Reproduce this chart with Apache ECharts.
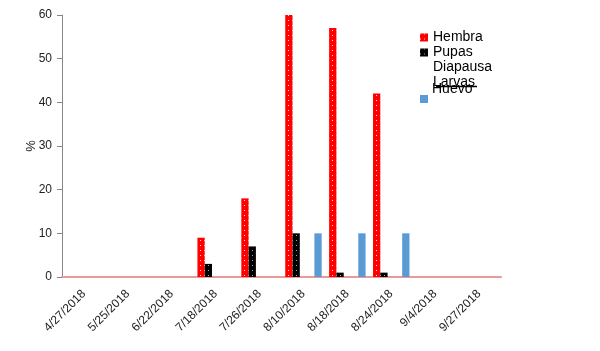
<!DOCTYPE html>
<html>
<head>
<meta charset="utf-8">
<title>Estados</title>
<script src="https://cdn.jsdelivr.net/npm/echarts@6/dist/echarts.min.js"></script>
</head>
<body style="margin:0">
<div id="container" style="width:600px;height:351px"></div>
<script>
var fechas = ['4/27/2018', '5/25/2018', '6/22/2018', '7/18/2018', '7/26/2018',
              '8/10/2018', '8/18/2018', '8/24/2018', '9/4/2018', '9/27/2018'];
var hembra   = [0, 0, 0, 9, 18, 60, 57, 42, 0, 0];
var pupas    = [0, 0, 0, 3, 7, 10, 1, 1, 0, 0];
var diapausa = [0, 0, 0, 0, 0, 0, 0, 0, 0, 0];
var larvas   = [0, 0, 0, 0, 0, 0, 0, 0, 0, 0];
var huevo    = [0, 0, 0, 0, 0, 10, 10, 10, 0, 0];

var myChart = echarts.init(document.getElementById('container'));
var fuente = 'Liberation Sans, Arial, sans-serif';

// white / pale dots over the fill, like the original pattern fill
var puntos = function (c) {
  return { symbol: 'rect', symbolSize: 1, color: c, dashArrayX: [1, 3], dashArrayY: [1, 4] };
};

var option = {
  animation: false,
  textStyle: { fontFamily: fuente },
  grid: { left: 62, right: 99, top: 15, bottom: 74 },
  legend: [{
    orient: 'vertical', left: 415, top: 25,
    icon: 'rect', itemWidth: 8, itemHeight: 8, itemGap: 0,
    textStyle: { fontSize: 14, color: '#000', lineHeight: 15 },
    data: ['Hembra', 'Pupas', 'Diapausa', 'Larvas']
  }, {
    orient: 'vertical', left: 415, top: 90,
    icon: 'rect', itemWidth: 8, itemHeight: 8,
    formatter: function () { return ''; },
    data: ['Huevo']
  }],
  graphic: [
    { type: 'text', left: 432, top: 82, silent: true,
      style: { text: 'Huevo', font: '14px Liberation Sans, Arial, sans-serif', fill: '#000' } },
    { type: 'line', silent: true,
      shape: { x1: 436, y1: 86.5, x2: 477, y2: 86.5 },
      style: { stroke: '#000', lineWidth: 1.5 } }
  ],
  xAxis: {
    type: 'category',
    data: fechas,
    axisLine: { lineStyle: { color: '#e89a9a', width: 2 } },
    axisTick: { show: false },
    axisLabel: { rotate: 45, fontSize: 12, color: '#222', margin: 15 }
  },
  yAxis: {
    type: 'value', min: 0, max: 60, interval: 10,
    name: '%', nameLocation: 'middle', nameGap: 24, nameRotate: 90,
    nameMoveOverlap: false,
    nameTextStyle: { fontSize: 13, color: '#222' },
    axisLine: { show: true, lineStyle: { color: '#868686' } },
    axisTick: { show: true, length: 5, lineStyle: { color: '#868686' } },
    axisLabel: { fontSize: 12, color: '#222', margin: 10 },
    splitLine: { show: false }
  },
  series: [
    { name: 'Hembra', type: 'bar', data: hembra, barGap: 0, barCategoryGap: '17%',
      itemStyle: { color: '#ff0000', decal: puntos('rgba(255,255,255,0.85)') } },
    { name: 'Pupas', type: 'bar', data: pupas,
      itemStyle: { color: '#000000', decal: puntos('rgba(170,200,255,0.85)') } },
    { name: 'Diapausa', type: 'bar', data: diapausa,
      itemStyle: { color: '#ffffff' } },
    { name: 'Larvas', type: 'bar', data: larvas,
      itemStyle: { color: '#ffffff' } },
    { name: 'Huevo', type: 'bar', data: huevo,
      itemStyle: { color: '#5b9bd5' } }
  ]
};
myChart.setOption(option);
</script>
</body>
</html>
